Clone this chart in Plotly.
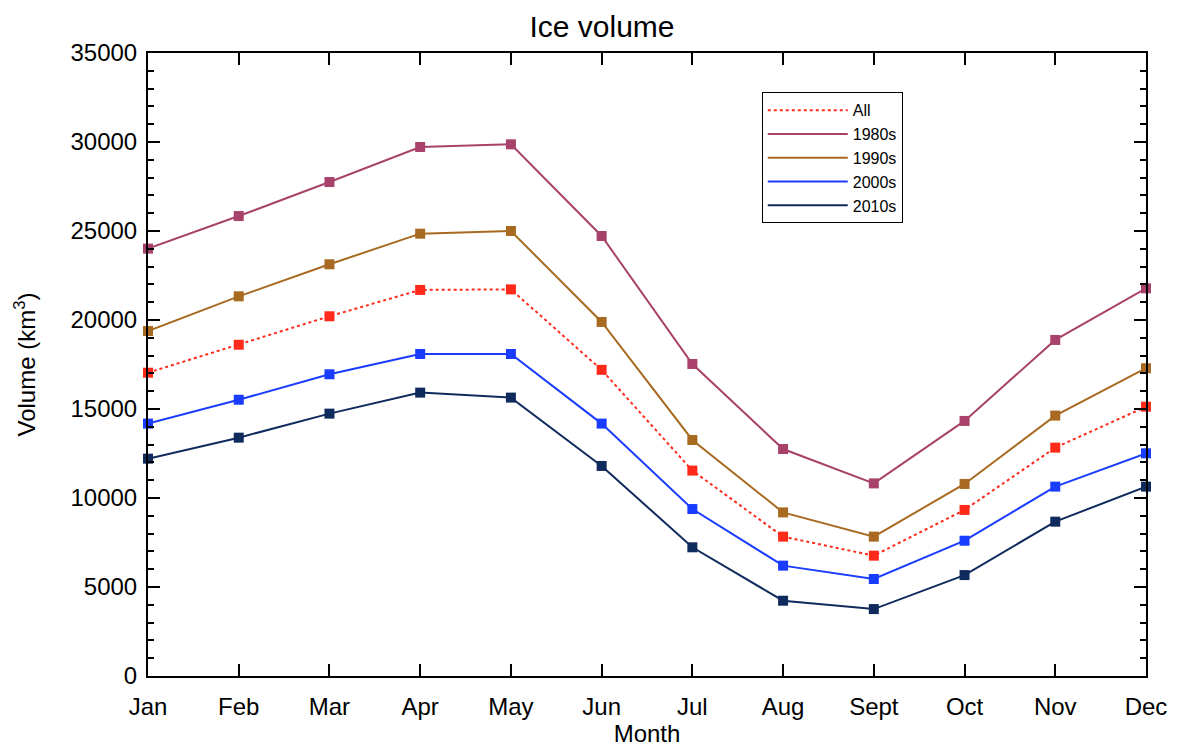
import plotly.graph_objects as go

months = ["Jan", "Feb", "Mar", "Apr", "May", "Jun", "Jul", "Aug", "Sept", "Oct", "Nov", "Dec"]

vol_all = [17040, 18610, 20210, 21690, 21720, 17200, 11540, 7830, 6760, 9330, 12830, 15130]
vol_1980s = [24010, 25840, 27750, 29720, 29870, 24720, 17530, 12750, 10820, 14330, 18880, 21780]
vol_1990s = [19380, 21330, 23130, 24850, 25000, 19890, 13260, 9190, 7830, 10790, 14630, 17290]
vol_2000s = [14180, 15520, 16950, 18090, 18090, 14180, 9380, 6200, 5450, 7600, 10640, 12510]
vol_2010s = [12210, 13390, 14740, 15920, 15640, 11800, 7230, 4230, 3760, 5670, 8670, 10640]

series = [
    ("All", vol_all, "#ff2a1a", "dot"),
    ("1980s", vol_1980s, "#a8426a", "solid"),
    ("1990s", vol_1990s, "#a86a20", "solid"),
    ("2000s", vol_2000s, "#1a3cff", "solid"),
    ("2010s", vol_2010s, "#0f2a5c", "solid"),
]

fig = go.Figure()
for name, vals, color, dash in series:
    fig.add_trace(go.Scatter(
        x=months, y=vals, name=name, mode="lines+markers", showlegend=False,
        line=dict(color=color, width=2, dash=dash),
        marker=dict(symbol="square", size=10, color=color),
        cliponaxis=False,
    ))
# legend entries show line samples only, as in the original
for name, vals, color, dash in series:
    fig.add_trace(go.Scatter(
        x=[months[0]], y=[None], name=name, mode="lines",
        line=dict(color=color, width=2, dash=dash),
    ))

axis_style = dict(
    showline=True, linecolor="black", linewidth=2, mirror="ticks",
    ticks="inside", ticklen=12, tickcolor="black", tickwidth=1.5,
    showgrid=False, zeroline=False,
    tickfont=dict(size=24, color="black"),
)

fig.update_layout(
    width=1188, height=753,
    margin=dict(l=140, r=50, t=45, b=85),
    paper_bgcolor="white", plot_bgcolor="white",
    font=dict(family="Liberation Sans, Arial, sans-serif", color="black"),
    title=dict(text="Ice volume", x=0.5, xanchor="center", y=0.99, yanchor="top",
               font=dict(size=30)),
    legend=dict(x=0.615, y=0.937, xanchor="left", yanchor="top",
                bordercolor="black", borderwidth=1, bgcolor="white",
                font=dict(size=16), tracegroupgap=0, itemwidth=80),
)
fig.update_xaxes(axis_style, range=[0, 11], ticklabelstandoff=8,
                 title=dict(text="Month", font=dict(size=24), standoff=0))
fig.update_yaxes(axis_style, range=[0, 35000], tickvals=list(range(0, 35001, 5000)),
                 tickformat="d", ticklabelstandoff=4,
                 minor=dict(ticks="inside", ticklen=6, tickcolor="black", dtick=1000),
                 title=dict(text="Volume (km<sup>3</sup>)", font=dict(size=24), standoff=28))

fig.write_html("out.html")
